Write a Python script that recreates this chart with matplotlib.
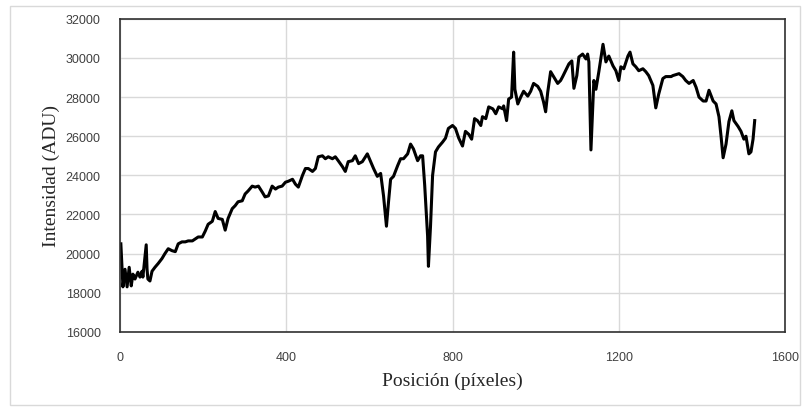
import matplotlib.pyplot as plt
from matplotlib.patches import Rectangle

# Spectrum
posicion = [2, 7, 12, 17, 22, 27, 31, 36, 43, 48, 53, 55, 63, 65, 67, 72, 77, 84, 92, 101,
            108, 116, 125, 133, 140, 149, 157, 164, 174, 181, 188, 198, 205, 212, 222, 229, 236, 246, 253, 260,
            270, 277, 284, 294, 301, 308, 318, 325, 333, 342, 349, 357, 366, 374, 381, 390, 398, 405, 415, 422,
            429, 439, 446, 453, 463, 470, 477, 487, 494, 501, 511, 518, 525,
            535, 542, 549, 559, 566, 574, 583, 595, 603, 610, 619, 627, 634, 641, 646, 651, 658, 668, 675, 682,
            692, 699, 706, 716, 723, 728, 733, 740, 742, 747, 752, 759, 766, 776, 783, 790,
            800, 807, 815, 824, 831, 839, 846, 853, 860, 868, 872, 880, 887, 897, 904, 911, 921, 923, 930, 935,
            942, 947, 950, 957, 964, 971, 981, 988, 995, 1005, 1012, 1019, 1024, 1029, 1036, 1043, 1053, 1060,
            1065, 1072, 1080, 1087, 1092, 1099, 1104, 1113, 1121, 1125, 1128, 1133, 1138, 1140, 1145, 1152,
            1162, 1169, 1176, 1186, 1193, 1200, 1205, 1212, 1222, 1227, 1234, 1241, 1248, 1258, 1265, 1272,
            1282, 1289, 1296, 1306, 1313, 1326,
            1330, 1345, 1354, 1361, 1369, 1379, 1386, 1393, 1403, 1410, 1417, 1427, 1434, 1441, 1446, 1451,
            1458, 1465, 1472, 1477, 1487, 1494, 1501, 1506, 1513, 1518, 1523, 1527]
intensidad = [20500, 18300, 19200, 18300, 19300, 18350, 18950, 18700, 19050, 18800, 19100, 18800, 20450, 19200, 18700, 18600, 19100, 19300, 19500, 19750,
              20000, 20250, 20150, 20100, 20500, 20600, 20600, 20650, 20650, 20750, 20850, 20850, 21150, 21500, 21650, 22150, 21800, 21750, 21200, 21800,
              22300, 22450, 22650, 22700, 23050, 23200, 23450, 23400, 23450, 23150, 22900, 22950, 23450, 23300, 23400, 23450, 23650, 23700, 23800, 23550,
              23400, 24000, 24350, 24350, 24200, 24350, 24950, 25000, 24850, 24950, 24850, 24950, 24750,
              24450, 24200, 24700, 24750, 25000, 24600, 24700, 25100, 24700, 24350, 23950, 24100, 22950, 21400, 22650, 23800, 23950, 24500, 24850, 24850,
              25100, 25600, 25350, 24750, 25000, 25000, 23500, 20900, 19350, 21400, 24000, 25200, 25450, 25700, 25900, 26400,
              26550, 26400, 25900, 25500, 26250, 26100, 25850, 26900, 26800, 26550, 27000, 26900, 27500, 27400, 27150, 27500, 27400, 27550, 26800, 27900,
              28000, 30300, 28400, 27650, 28000, 28300, 28050, 28300, 28700, 28550, 28300, 27750, 27250, 28250, 29300, 29050, 28700, 28850,
              29050, 29350, 29700, 29850, 28450, 29100, 30050, 30200, 29950, 30200, 29800, 25300, 27800, 28850, 28400, 29300,
              30700, 29800, 30100, 29600, 29350, 28850, 29550, 29450, 30100, 30300, 29700, 29550, 29350, 29450, 29300, 29100,
              28600, 27450, 28150, 28950, 29050, 29050,
              29100, 29200, 29050, 28850, 28700, 28850, 28500, 28000, 27800, 27800, 28350, 27800, 27650, 27000, 26000, 24900,
              25600, 26750, 27300, 26800, 26500, 26250, 25850, 26000, 25100, 25200, 25850, 26800]

x_ticks = [0, 400, 800, 1200, 1600]
y_ticks = [16000, 18000, 20000, 22000, 24000, 26000, 28000, 30000, 32000]

fig = plt.figure(figsize=(8.11, 4.14), dpi=100)
ax = fig.add_axes([0.148, 0.196, 0.82, 0.756])

ax.plot(posicion, intensidad, color='black', lw=2.2, solid_joinstyle='round')

ax.set_xlim(0, 1600)
ax.set_ylim(16000, 32000)
ax.set_xticks(x_ticks)
ax.set_yticks(y_ticks)
ax.grid(True, color='#d9d9d9', lw=1)
ax.set_axisbelow(True)
ax.tick_params(length=0, labelsize=9, labelcolor='#404040', pad=14)
for lab in ax.get_xticklabels() + ax.get_yticklabels():
    lab.set_family('Liberation Sans')
for sp in ax.spines.values():
    sp.set_color('#303030')
    sp.set_linewidth(1.2)

ax.set_xlabel('Posición (píxeles)', family='Liberation Serif', fontsize=14, color='#262626', labelpad=6)
ax.set_ylabel('Intensidad (ADU)', family='Liberation Serif', fontsize=14, color='#262626', labelpad=4)

# light outer frame of the chart area
fig.patches.append(Rectangle((0.012, 0.02), 0.975, 0.963, transform=fig.transFigure,
                             fill=False, edgecolor='#d9d9d9', lw=1))

fig.savefig('out.png', dpi=100)
